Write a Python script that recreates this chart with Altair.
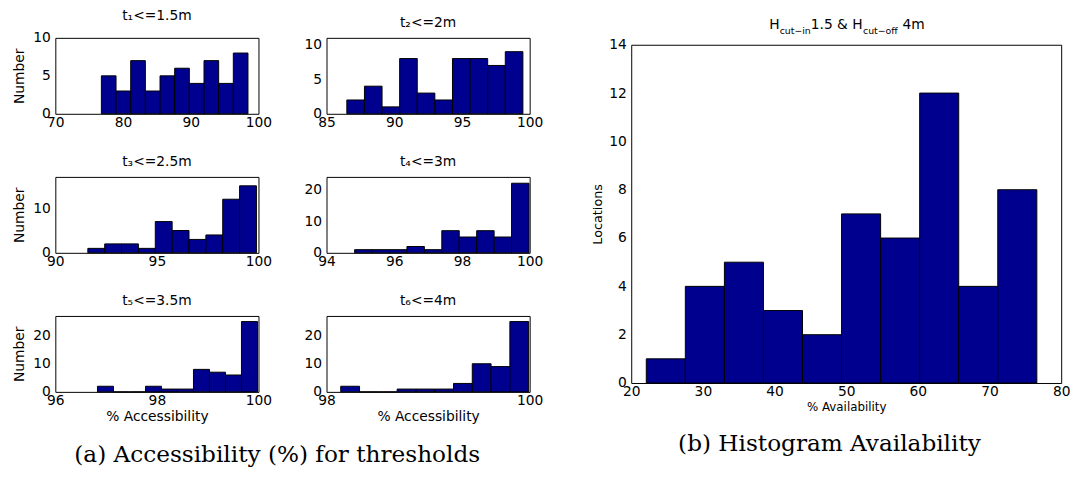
import altair as alt
import pandas as pd

NAVY = "#00008F"
FONT = "DejaVu Sans"
SERIF = "DejaVu Serif"

# ---------------- data ----------------
titles = ["t\u2081<=1.5m", "t\u2082<=2m", "t\u2083<=2.5m", "t\u2084<=3m", "t\u2085<=3.5m", "t\u2086<=4m"]
x_domains = [[70, 100], [85, 100], [90, 100], [94, 100], [96, 100], [98, 100]]
x_ticks = [[70, 80, 90, 100], [85, 90, 95, 100], [90, 95, 100], [94, 96, 98, 100], [96, 98, 100], [98, 99, 100]]
y_domains = [[0, 10], [0, 11], [0, 17], [0, 24], [0, 27], [0, 27]]
y_ticks = [[0, 5, 10], [0, 5, 10], [0, 10], [0, 10, 20], [0, 10, 20], [0, 10, 20]]
bin_lo = [76.8, 86.5, 91.6, 94.83, 96.83, 98.14]
bin_hi = [98.45, 99.5, 99.9, 99.98, 99.98, 99.99]
counts = [
    [5, 3, 7, 3, 5, 6, 4, 7, 4, 8],
    [2, 4, 1, 8, 3, 2, 8, 8, 7, 9],
    [1, 2, 2, 1, 7, 5, 3, 4, 12, 15],
    [1, 1, 1, 2, 1, 7, 5, 7, 5, 22],
    [2, 0, 0, 2, 1, 1, 8, 7, 6, 25],
    [2, 0, 0, 1, 1, 1, 3, 10, 9, 25],
]
avail_lo, avail_hi = 22.1, 76.6
avail_counts = [1, 4, 5, 3, 2, 7, 6, 12, 4, 8]
avail_x_ticks = [20, 30, 40, 50, 60, 70, 80]
avail_y_ticks = [0, 2, 4, 6, 8, 10, 12, 14]

caption_a = "(a) Accessibility (%) for thresholds"
caption_b = "(b) Histogram Availability"

one = pd.DataFrame({"k": [0]})


def bins_frame(lo, hi, cnts):
    n = len(cnts)
    w = (hi - lo) / n
    return pd.DataFrame({
        "start": [lo + k * w for k in range(n)],
        "end": [lo + (k + 1) * w for k in range(n)],
        "count": cnts,
        "zero": [0] * n,
    })


def text_layer(txt, x, y, size, font=FONT, align="left"):
    return alt.Chart(one).mark_text(
        text=txt, font=font, fontSize=size, align=align, baseline="alphabetic", color="black"
    ).encode(x=alt.value(x), y=alt.value(y))


def hist_panel(i, ytitle, xtitle, extra=None):
    df = bins_frame(bin_lo[i], bin_hi[i], counts[i])
    bars = alt.Chart(df).mark_bar(color=NAVY, stroke="black", strokeWidth=1, opacity=1).encode(
        x=alt.X("start:Q", scale=alt.Scale(domain=x_domains[i], nice=False, zero=False),
                axis=alt.Axis(values=x_ticks[i], format="d", title=xtitle)),
        x2="end:Q",
        y=alt.Y("count:Q", scale=alt.Scale(domain=y_domains[i], nice=False),
                axis=alt.Axis(values=y_ticks[i], format="d", title=ytitle)),
        y2="zero:Q",
    )
    layers = [bars] + (extra or [])
    return alt.layer(*layers).properties(
        width=206, height=77,
        title=alt.TitleParams(text=titles[i]),
    )


p1 = hist_panel(0, "Number", "")
p2 = hist_panel(1, "", "")
p3 = hist_panel(2, "Number", "")
p4 = hist_panel(3, "", "")
p5 = hist_panel(4, "Number", "% Accessibility",
                extra=[text_layer(caption_a, 225, 148, 23.5, font=SERIF, align="center")])
p6 = hist_panel(5, "", "% Accessibility")

left = alt.concat(p1, p2, p3, p4, p5, p6, columns=2,
                  spacing={"row": 64, "column": 69}, bounds="flush")

# big histogram
adf = bins_frame(avail_lo, avail_hi, avail_counts)
abars = alt.Chart(adf).mark_bar(color=NAVY, stroke="black", strokeWidth=1, opacity=1).encode(
    x=alt.X("start:Q", scale=alt.Scale(domain=[20, 80], nice=False, zero=False),
            axis=alt.Axis(values=avail_x_ticks, format="d", title="% Availability",
                          labelFontSize=14, titleFontSize=12, titlePadding=3)),
    x2="end:Q",
    y=alt.Y("count:Q", scale=alt.Scale(domain=[0, 14], nice=False),
            axis=alt.Axis(values=avail_y_ticks, format="d", title="Locations",
                          labelFontSize=14, titleFontSize=13, titlePadding=4)),
    y2="zero:Q",
)
big = alt.layer(
    abars,
    text_layer("H", 140, -16, 14),
    text_layer("cut\u2212in", 150.5, -11, 9.5),
    text_layer("1.5 & H", 182, -16, 14),
    text_layer("cut\u2212off", 235, -11, 9.5),
    text_layer("4m", 275, -16, 14),
    text_layer(caption_b, 201, 412, 23.5, font=SERIF, align="center"),
).properties(width=436, height=343)

spacer = alt.Chart(one).mark_point(opacity=0).encode(
    x=alt.X("k:Q", axis=None), y=alt.Y("k:Q", axis=None)
).properties(width=436, height=1, view=alt.ViewBackground(stroke="transparent"))

right = alt.vconcat(spacer, big, spacing=6, bounds="flush")

chart = alt.hconcat(left, right, spacing=48).properties(
    padding={"left": 4, "top": -3, "right": 4, "bottom": 4}
).configure_view(
    stroke="black", strokeWidth=1
).configure_axis(
    grid=False, domain=False, ticks=False,
    labelFont=FONT, labelFontSize=14, labelColor="black",
    titleFont=FONT, titleFontSize=14, titleFontWeight="normal", titleColor="black",
    labelOverlap=False, labelFlush=False,
).configure_axisX(
    labelPadding=2, titlePadding=2
).configure_axisY(
    labelPadding=5, titlePadding=6
).configure_title(
    font=FONT, fontSize=14, fontWeight="normal", color="black", anchor="middle",
    baseline="alphabetic", offset=8
)

chart.save("out.html", embed_options={"renderer": "svg", "actions": False})
